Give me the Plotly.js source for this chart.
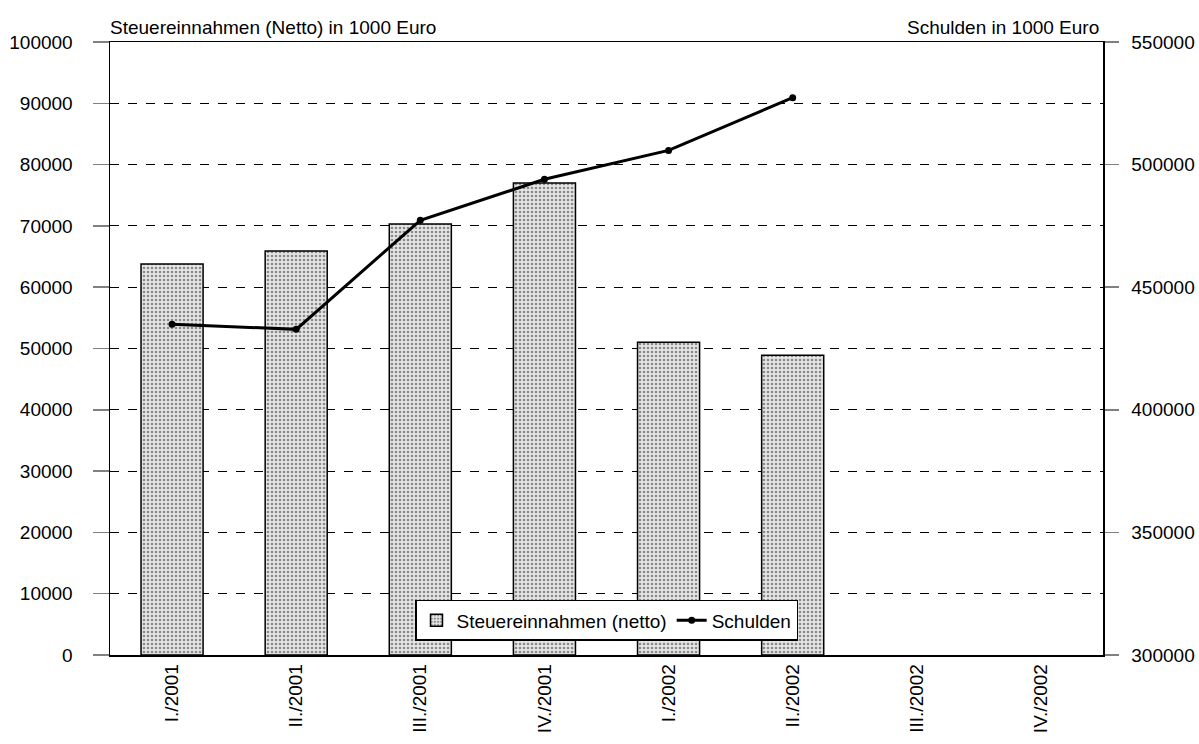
<!DOCTYPE html>
<html>
<head>
<meta charset="utf-8">
<script src="https://cdn.plot.ly/plotly-3.0.1.min.js"></script>
<style>body{margin:0;padding:0;background:#fff}#chart{width:1199px;height:744px}</style>
</head>
<body>
<div id="chart"></div>
<script>
const categories = ["I./2001","II./2001","III./2001","IV./2001","I./2002","II./2002","III./2002","IV./2002"];
const steuerCats = ["I./2001","II./2001","III./2001","IV./2001","I./2002","II./2002"];
const steuerValues = [63800, 65900, 70300, 77000, 51000, 48900];
const schuldenValues = [434900, 432800, 477300, 494000, 505800, 527300];
const leftTicks = [0,10000,20000,30000,40000,50000,60000,70000,80000,90000,100000];
const rightTicks = [300000,350000,400000,450000,500000,550000];

const traces = [
  {
    type: 'bar', name: 'Steuereinnahmen (netto)', x: steuerCats, y: steuerValues,
    width: 0.5,
    marker: {color: '#e6e6e6', line: {color: '#000', width: 1.5},
      pattern: {shape: '.', fgcolor: '#8a8a8a', bgcolor: '#e6e6e6', size: 4, solidity: 0.35}},
    yaxis: 'y'
  },
  {
    type: 'scatter', mode: 'lines+markers', name: 'Schulden', x: steuerCats, y: schuldenValues,
    line: {color: '#000', width: 3}, marker: {color: '#000', size: 7},
    yaxis: 'y2'
  }
];

const font = {family: 'Liberation Sans, Arial, sans-serif', size: 19, color: '#000'};
const layout = {
  width: 1199, height: 744,
  margin: {l: 110, r: 96, t: 42, b: 89},
  paper_bgcolor: '#fff', plot_bgcolor: '#fff',
  font: font,
  showlegend: true,
  legend: {orientation: 'h', x: 0.5, xanchor: 'center', y: 0.023, yanchor: 'bottom',
    bgcolor: '#fff', bordercolor: '#000', borderwidth: 1.5, font: {size: 19},
    traceorder: 'normal', itemwidth: 30, entrywidth: 0, tracegroupgap: 0},
  xaxis: {type: 'category', categoryorder: 'array', categoryarray: categories,
    tickvals: categories, range: [-0.5, 7.5],
    tickangle: -90, showline: true, linecolor: '#000', linewidth: 1.5, mirror: true,
    ticks: '', showgrid: false, tickfont: {size: 19}, fixedrange: true},
  yaxis: {range: [0, 100000], tickvals: leftTicks, ticktext: leftTicks.map(String),
    showline: true, linecolor: '#000', linewidth: 1.5,
    ticks: 'outside', ticklen: 16, tickcolor: '#808080', tickwidth: 1.5,
    showgrid: true, gridcolor: '#000', gridwidth: 1, griddash: 'dash',
    zeroline: false, tickfont: {size: 19}, ticklabelstandoff: 16},
  yaxis2: {range: [300000, 550000], tickvals: rightTicks, ticktext: rightTicks.map(String),
    overlaying: 'y', side: 'right',
    showline: true, linecolor: '#000', linewidth: 1.5,
    ticks: 'outside', ticklen: 14, tickcolor: '#808080', tickwidth: 1.5,
    showgrid: false, zeroline: false, tickfont: {size: 19}, ticklabelstandoff: 9},
  annotations: [
    {text: 'Steuereinnahmen (Netto) in 1000 Euro', xref: 'paper', yref: 'paper',
     x: 0, y: 1, xanchor: 'left', yanchor: 'bottom', yshift: 2, xshift: -2, showarrow: false, font: {size: 19}},
    {text: 'Schulden in 1000 Euro', xref: 'paper', yref: 'paper',
     x: 1, y: 1, xanchor: 'right', yanchor: 'bottom', yshift: 2, xshift: -2, showarrow: false, font: {size: 19}}
  ]
};

Plotly.newPlot('chart', traces, layout, {displayModeBar: false, staticPlot: true});
</script>
</body>
</html>
